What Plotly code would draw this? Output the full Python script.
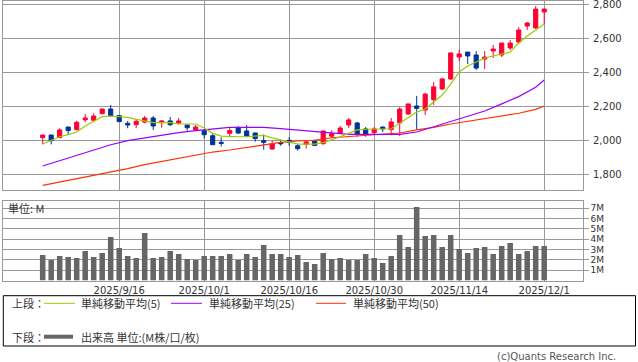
import plotly.graph_objects as go

W, H = 638, 362

# ---------------- data ----------------
dates = ["9/2", "9/3", "9/4", "9/5", "9/8", "9/9", "9/10", "9/11", "9/12",
         "9/16", "9/17", "9/18", "9/19", "9/22", "9/24", "9/25", "9/26", "9/29", "9/30",
         "10/1", "10/2", "10/3", "10/6", "10/7", "10/8", "10/9", "10/10", "10/14", "10/15",
         "10/16", "10/17", "10/20", "10/21", "10/22", "10/23", "10/24", "10/27", "10/28", "10/29",
         "10/30", "10/31", "11/4", "11/5", "11/6", "11/7", "11/10", "11/11", "11/12", "11/13",
         "11/14", "11/17", "11/18", "11/19", "11/20", "11/21", "11/25", "11/26", "11/27", "11/28",
         "12/1"]

open_ = [2016, 2031, 2016, 2078, 2063, 2120, 2118, 2157, 2184, 2145,
         2100, 2092, 2107, 2131, 2104, 2114, 2102, 2090, 2061, 2057,
         2027, 1988, 2041, 2072, 2055, 2043, 1998, 1949, 1986, 2000,
         1968, 1976, 2000, 1980, 2024, 2043, 2090, 2102, 2067, 2045,
         2078, 2063, 2102, 2155, 2202, 2178, 2239, 2302, 2361, 2490,
         2519, 2502, 2478, 2525, 2502, 2543, 2578, 2672, 2661, 2755]
high = [2031, 2033, 2071, 2080, 2114, 2155, 2159, 2186, 2208, 2147,
        2114, 2125, 2143, 2143, 2120, 2137, 2131, 2092, 2090, 2061,
        2037, 2018, 2073, 2084, 2090, 2045, 2035, 2000, 2002, 2019,
        1980, 2002, 2002, 2055, 2059, 2084, 2131, 2108, 2078, 2078,
        2082, 2131, 2194, 2214, 2261, 2278, 2343, 2367, 2514, 2531,
        2519, 2525, 2525, 2561, 2572, 2590, 2666, 2696, 2790, 2772]
low = [1976, 1976, 2012, 2031, 2059, 2106, 2106, 2153, 2143, 2108,
       2071, 2071, 2100, 2061, 2074, 2084, 2092, 2057, 2055, 2010,
       1974, 1963, 2025, 2037, 2019, 1992, 1945, 1945, 1968, 1968,
       1939, 1951, 1966, 1974, 2012, 2039, 2072, 2021, 2021, 2037,
       2049, 2030, 2024, 2149, 2061, 2149, 2208, 2296, 2355, 2466,
       2449, 2414, 2419, 2484, 2490, 2531, 2566, 2649, 2655, 2684]
close = [2031, 1998, 2061, 2057, 2106, 2131, 2143, 2184, 2143, 2110,
         2090, 2112, 2131, 2084, 2114, 2092, 2114, 2074, 2078, 2033,
         1974, 1982, 2057, 2043, 2025, 2010, 1988, 1978, 1980, 1988,
         1951, 1990, 1970, 2055, 2039, 2072, 2120, 2037, 2037, 2067,
         2067, 2108, 2184, 2214, 2188, 2272, 2314, 2361, 2514, 2508,
         2496, 2425, 2490, 2537, 2572, 2572, 2649, 2690, 2772, 2772]

volume_m = [2.49, 2.00, 2.39, 2.29, 2.19, 2.87, 2.29, 2.68, 4.23, 3.16,
            2.39, 2.19, 4.61, 2.19, 2.29, 2.87, 2.58, 2.10, 2.00, 2.39,
            2.39, 2.39, 2.58, 2.00, 2.58, 2.29, 3.45, 2.58, 2.58, 2.29,
            2.49, 1.81, 1.61, 2.68, 2.10, 2.19, 2.00, 2.00, 2.58, 2.19,
            1.71, 2.39, 4.42, 3.26, 7.13, 4.32, 4.42, 3.26, 4.42, 3.06,
            2.68, 3.16, 3.26, 2.58, 3.35, 3.64, 2.58, 2.87, 3.35, 3.35]

ma5 = [1978, 1998, 2021, 2033, 2049, 2084, 2112, 2139, 2143, 2139,
       2135, 2123, 2115, 2104, 2104, 2104, 2096, 2096, 2096, 2072,
       2041, 2025, 2021, 2021, 2021, 2025, 2029, 2014, 2002, 1994,
       1978, 1978, 1978, 1986, 2002, 2021, 2041, 2061, 2065, 2065,
       2068, 2068, 2100, 2135, 2166, 2184, 2225, 2266, 2331, 2402,
       2437, 2461, 2484, 2496, 2508, 2519, 2572, 2614, 2649, 2684]

ma25_idx = [0, 2, 4, 6, 8, 10, 12, 14, 16, 18, 20, 21, 22, 24, 26, 28, 30, 32, 34,
            36, 38, 40, 42, 44, 46, 48, 50, 52, 54, 56, 58, 59]
ma25 = [1849, 1880, 1912, 1945, 1974, 1998, 2014, 2029, 2045, 2057, 2068, 2072, 2076,
        2076, 2076, 2069, 2061, 2049, 2041, 2035, 2035, 2035, 2035, 2049, 2080,
        2112, 2139, 2172, 2214, 2257, 2312, 2355]

ma50_idx = [0, 2, 4, 6, 8, 10, 12, 14, 16, 18, 20, 22, 24, 26, 28, 30, 32, 34,
            36, 38, 40, 42, 44, 46, 48, 50, 52, 54, 56, 58, 59]
ma50 = [1735, 1755, 1772, 1794, 1814, 1833, 1857, 1876, 1892, 1910, 1931, 1943,
        1957, 1974, 1988, 1996, 2000, 2015, 2021, 2027, 2033, 2043, 2061, 2076,
        2096, 2112, 2125, 2143, 2159, 2182, 2202]

tick_idx = [9, 19, 29, 39, 49, 59]
tick_text = ["2025/9/16", "2025/10/1", "2025/10/16", "2025/10/30", "2025/11/14", "2025/12/1"]

price_ticks = [1800, 2000, 2200, 2400, 2600, 2800]
price_tick_text = ["1,800", "2,000", "2,200", "2,400", "2,600", "2,800"]
vol_ticks = [1, 2, 3, 4, 5, 6, 7]
vol_tick_text = ["1M", "2M", "3M", "4M", "5M", "6M", "7M"]

# ---------------- styles ----------------
RED = "#FF0033"
BLUE = "#003399"
GREEN = "#99CC00"
PURPLE = "#9900FF"
ORANGE = "#FF3300"
VOLC = "#666666"
GRID = "#999999"
TXT = "#333333"
FONT = "DejaVu Sans"
JFONT = "Noto Sans CJK JP"


def px(x):
    return x / W


def py(y):
    return 1 - y / H


X_LEFT, X_RIGHT = 3.3, 582.7
MAIN_TOP, MAIN_BOT = 1.3, 190.0
VOL_TOP, VOL_BOT = 200.5, 280.6
# x pixel of first candle and pixel step
X0, STEP = 42.7, 8.5
xr = [(X_LEFT - X0) / STEP, (X_RIGHT - X0) / STEP]
# price scale: 2800 at y=4.3, 200 per 34 px
ppp = 200 / 34
yr = [1800 - (MAIN_BOT - 174.3) * ppp, 2800 + (4.3 - MAIN_TOP) * ppp]
vpx = 10.33
vr = [0, (VOL_BOT - VOL_TOP) / vpx]

fig = go.Figure()

fig.add_trace(go.Candlestick(
    x=dates, open=open_, high=high, low=low, close=close,
    increasing=dict(line=dict(color=RED, width=1), fillcolor=RED),
    decreasing=dict(line=dict(color=BLUE, width=1), fillcolor=BLUE),
    whiskerwidth=0, xaxis="x", yaxis="y", hoverinfo="skip", showlegend=False))

fig.add_trace(go.Scatter(x=[dates[i] for i in ma50_idx], y=ma50, mode="lines",
                         line=dict(color=ORANGE, width=1.2), xaxis="x", yaxis="y",
                         showlegend=False, hoverinfo="skip"))
fig.add_trace(go.Scatter(x=[dates[i] for i in ma25_idx], y=ma25, mode="lines",
                         line=dict(color=PURPLE, width=1.2), xaxis="x", yaxis="y",
                         showlegend=False, hoverinfo="skip"))
fig.add_trace(go.Scatter(x=dates, y=ma5, mode="lines",
                         line=dict(color=GREEN, width=1.2), xaxis="x", yaxis="y",
                         showlegend=False, hoverinfo="skip"))

fig.add_trace(go.Bar(x=dates, y=volume_m, marker=dict(color=VOLC, line=dict(width=0)),
                     width=0.65, xaxis="x2", yaxis="y2", showlegend=False, hoverinfo="skip"))

xcommon = dict(type="category", categoryorder="array", categoryarray=dates,
               range=xr, domain=[px(X_LEFT), px(X_RIGHT)],
               tickvals=[dates[i] for i in tick_idx], ticktext=tick_text,
               showgrid=True, gridcolor=GRID, gridwidth=1,
               showline=True, linecolor=GRID, linewidth=1, mirror=True,
               ticks="", zeroline=False, fixedrange=True)

fig.update_layout(
    width=W, height=H,
    margin=dict(l=0, r=0, t=0, b=0),
    paper_bgcolor="white", plot_bgcolor="white",
    showlegend=False,
    xaxis=dict(**xcommon, anchor="y", showticklabels=False,
               rangeslider=dict(visible=False)),
    xaxis2=dict(**xcommon, anchor="y2", showticklabels=True,
                tickfont=dict(family=FONT, size=10, color=TXT)),
    yaxis=dict(domain=[py(MAIN_BOT), py(MAIN_TOP)], range=yr, side="right",
               tickvals=price_ticks, showticklabels=False,
               showgrid=True, gridcolor=GRID, gridwidth=1,
               showline=True, linecolor=GRID, linewidth=1, mirror=True,
               ticks="outside", ticklen=5, tickcolor=GRID,
               zeroline=False, fixedrange=True, anchor="x"),
    yaxis2=dict(domain=[py(VOL_BOT), py(VOL_TOP)], range=vr, side="right",
                tickvals=vol_ticks, ticktext=vol_tick_text,
                showgrid=True, gridcolor=GRID, gridwidth=1,
                showline=True, linecolor=GRID, linewidth=1, mirror=True,
                ticks="outside", ticklen=5, tickcolor=GRID,
                tickfont=dict(family=FONT, size=9, color=TXT),
                zeroline=False, fixedrange=True, anchor="x2"),
)

shapes = []
annotations = []

# price tick labels (placed on the price axis scale)
for v, t in zip(price_ticks, price_tick_text):
    annotations.append(dict(x=px(591), y=v, xref="paper", yref="y", text=t,
                            showarrow=False, xanchor="left", yanchor="middle",
                            font=dict(family=FONT, size=10, color=TXT)))

# unit label in volume panel
annotations.append(dict(x=px(6), y=py(208.5), xref="paper", yref="paper",
                        text="単位: M", showarrow=False, xanchor="left", yanchor="middle",
                        font=dict(family=JFONT, size=11, color=TXT)))

# legend box
shapes.append(dict(type="rect", xref="paper", yref="paper",
                   x0=px(3.3), x1=px(635.5), y0=py(346), y1=py(295.7),
                   line=dict(color="black", width=1), fillcolor="rgba(0,0,0,0)"))

R1, R2 = 303.3, 336.7
legend_rows = [
    (R1, [(44, 75, GREEN, 1, 79, "単純移動平均(5)"),
          (171, 202, PURPLE, 1, 207, "単純移動平均(25)"),
          (316, 346, ORANGE, 1, 351, "単純移動平均(50)")], "上段："),
    (R2, [(44, 73, VOLC, 4, 79, "出来高 単位:(M株/口/枚)")], "下段："),
]
for ry, items, head in legend_rows:
    annotations.append(dict(x=px(10), y=py(ry), xref="paper", yref="paper", text=head,
                            showarrow=False, xanchor="left", yanchor="middle",
                            font=dict(family=JFONT, size=11, color=TXT)))
    for lx0, lx1, col, lw, tx, label in items:
        shapes.append(dict(type="line", xref="paper", yref="paper",
                           x0=px(lx0), x1=px(lx1), y0=py(ry), y1=py(ry),
                           line=dict(color=col, width=lw)))
        annotations.append(dict(x=px(tx), y=py(ry), xref="paper", yref="paper", text=label,
                                showarrow=False, xanchor="left", yanchor="middle",
                                font=dict(family=JFONT, size=11, color=TXT)))

annotations.append(dict(x=px(618), y=py(356.5), xref="paper", yref="paper",
                        text="(c)Quants Research Inc.", showarrow=False,
                        xanchor="right", yanchor="middle",
                        font=dict(family=FONT, size=10, color="#555555")))

fig.update_layout(shapes=shapes, annotations=annotations)

fig.write_html("out.html", config={"displayModeBar": False},
               post_script="document.body.style.margin='0';document.body.style.overflow='hidden';")
